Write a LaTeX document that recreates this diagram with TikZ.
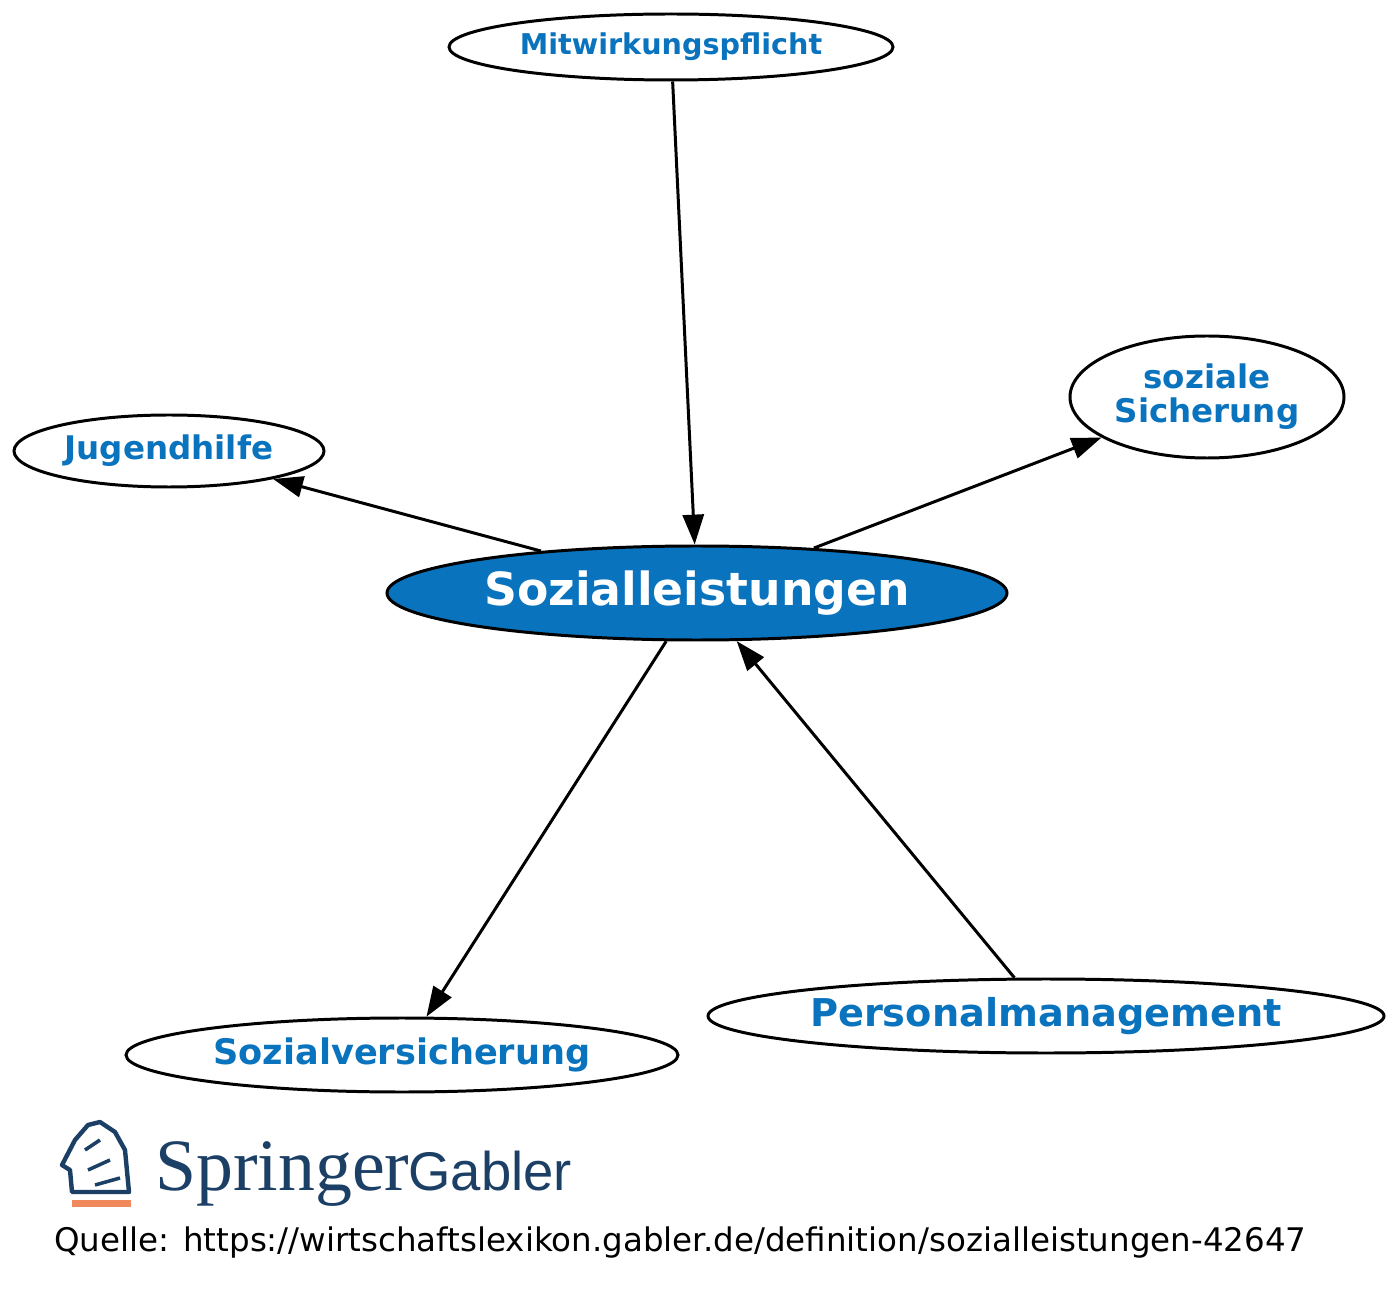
\documentclass[tikz,border=0pt]{standalone}
\usepackage{fontspec}
\setmainfont{DejaVu Sans}
\newfontfamily\logoserif{Liberation Serif}
\newfontfamily\logosans{Liberation Sans}
\usetikzlibrary{shapes.geometric,arrows.meta}
\definecolor{gblue}{HTML}{0A73BE}
\definecolor{navy}{HTML}{1C3F66}
\definecolor{logoorange}{HTML}{F08A5D}
\tikzset{
  topic/.style={ellipse,draw=black,line width=1.7pt,fill=white,inner sep=0pt,text=gblue,font=\bfseries,align=center},
  edge/.style={line width=1.7pt,-{Triangle[length=17pt,width=12pt]}}
}
\begin{document}
\begin{tikzpicture}[x=0.02cm,y=-0.02cm]
\useasboundingbox (0,0) rectangle (1400,1300);
\fill[white] (0,0) rectangle (1400,1300);
\node[topic,minimum width=444*0.02cm,minimum height=66*0.02cm,font=\bfseries\fontsize{16.3}{18}\selectfont] (m) at (671,47) {Mitwirkungspflicht};
\node[topic,minimum width=274*0.02cm,minimum height=122*0.02cm,font=\bfseries\fontsize{18.5}{19.5}\selectfont] (s) at (1207,397) {soziale\\Sicherung};
\node[topic,minimum width=310*0.02cm,minimum height=72*0.02cm,font=\bfseries\fontsize{18.5}{20}\selectfont] (j) at (169,451) {Jugendhilfe};
\node[topic,fill=gblue,text=white,minimum width=620*0.02cm,minimum height=94*0.02cm,font=\bfseries\fontsize{26}{28}\selectfont] (c) at (697,593) {Sozialleistungen};
\node[topic,minimum width=552*0.02cm,minimum height=74*0.02cm,font=\bfseries\fontsize{20}{22}\selectfont] (v) at (402,1055) {Sozialversicherung};
\node[topic,minimum width=676*0.02cm,minimum height=74*0.02cm,font=\bfseries\fontsize{21.8}{23}\selectfont] (p) at (1046,1016) {Personalmanagement};
\draw[edge] (m) -- (c);
\draw[edge] (c) -- (j);
\draw[edge] (c) -- (s);
\draw[edge] (c) -- (v);
\draw[edge] (p) -- (c);
% logo
\node[inner sep=0pt,font=\fontsize{18.5}{20}\selectfont,anchor=west] (src) at (54,1243) {Quelle: https://wirtschaftslexikon.gabler.de/definition/sozialleistungen-42647};
\fill[logoorange] (72,1200) rectangle (131,1207);
\draw[navy,line width=2.5pt,line join=round] (72,1192) -- (70,1170) -- (62,1165) -- (75,1140) -- (88,1125) -- (100,1122) -- (115,1132) -- (125,1150) -- (129,1192) -- cycle;
\draw[navy,line width=2pt] (85,1150) -- (100,1140) (88,1170) -- (110,1160) (95,1185) -- (120,1178);
\node[inner sep=0pt,anchor=base west,text=navy,font=\logoserif\fontsize{42}{44}\selectfont] (spr) at (155,1190) {Springer};
\node[inner sep=0pt,anchor=base west,text=navy,font=\logosans\fontsize{31}{34}\selectfont] (gab) at (408,1190) {Gabler};
\end{tikzpicture}
\end{document}
